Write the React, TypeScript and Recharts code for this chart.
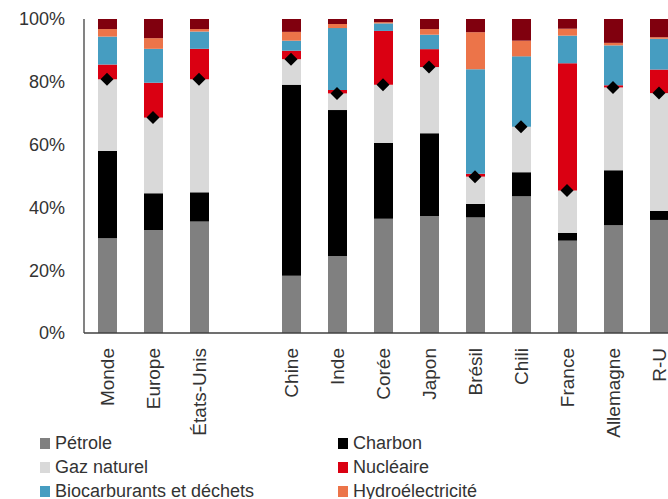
import { ComposedChart, Bar, Line, XAxis, YAxis } from 'recharts';

const categories = ['Monde', 'Europe', 'États-Unis', '', 'Chine', 'Inde', 'Corée', 'Japon', 'Brésil', 'Chili', 'France', 'Allemagne', 'R-U'];
const petrole = [30.2, 32.8, 35.5, null, 18.2, 24.5, 36.4, 37.3, 36.8, 43.6, 29.4, 34.3, 36.0];
const charbon = [27.8, 11.7, 9.3, null, 60.9, 46.5, 24.1, 26.3, 4.3, 7.6, 2.5, 17.5, 2.9];
const gaz = [22.8, 24.1, 36.0, null, 8.1, 5.3, 18.6, 21.1, 8.7, 14.5, 13.5, 26.4, 37.5];
const nucleaire = [4.7, 11.1, 9.7, null, 2.7, 1.1, 17.1, 5.7, 0.9, 0, 40.5, 0.7, 7.5];
const biocarburants = [8.9, 10.8, 5.5, null, 3.2, 19.7, 2.4, 4.6, 33.3, 22.4, 8.8, 12.7, 9.8];
const hydro = [2.4, 3.4, 0.8, null, 2.8, 1.3, 0.4, 1.8, 11.8, 5.0, 2.2, 0.8, 0.5];
const autres = [3.2, 6.1, 3.2, null, 4.1, 1.6, 1.0, 3.2, 4.2, 6.9, 3.1, 7.6, 5.8];
const fossiles = [80.8, 68.6, 80.8, null, 87.2, 76.3, 79.1, 84.7, 49.8, 65.7, 45.4, 78.2, 76.4];
const yTicks = [0, 20, 40, 60, 80, 100];

const SERIES = [
  { key: 'petrole', name: 'Pétrole', color: '#808080', values: petrole },
  { key: 'charbon', name: 'Charbon', color: '#000000', values: charbon },
  { key: 'gaz', name: 'Gaz naturel', color: '#d9d9d9', values: gaz },
  { key: 'nucleaire', name: 'Nucléaire', color: '#da0012', values: nucleaire },
  { key: 'bio', name: 'Biocarburants et déchets', color: '#469dc1', values: biocarburants },
  { key: 'hydro', name: 'Hydroélectricité', color: '#ec7449', values: hydro },
  { key: 'autres', name: 'Autres', color: '#80000e', values: autres },
];

const data = categories.map((name, i) => {
  const row: Record<string, any> = { name, fossiles: fossiles[i] };
  SERIES.forEach(s => { row[s.key] = s.values[i]; });
  return row;
});

const FONT = '"Liberation Sans", Arial, sans-serif';
const TEXT = '#333333';

function XTick({ x, y, payload }: any) {
  if (!payload.value) return null;
  return (
    <text
      transform={`translate(${x},${y}) rotate(-90)`}
      textAnchor="end"
      dy="0.36em"
      fill={TEXT}
      fontSize={19}
      fontFamily={FONT}
    >
      {payload.value}
    </text>
  );
}

function Diamond({ cx, cy }: any) {
  if (cx == null || cy == null || isNaN(cy)) return null;
  const r = 6.5;
  return <polygon points={`${cx},${cy - r} ${cx + r},${cy} ${cx},${cy + r} ${cx - r},${cy}`} fill="#000" />;
}

export default function App() {
  return (
    <div style={{ position: 'fixed', left: 0, top: 0, width: 668, height: 499, overflow: 'hidden', background: '#fff' }}>
      <ComposedChart
        width={700}
        height={440}
        data={data}
        margin={{ top: 19, right: 18, bottom: 0, left: 0 }}
      >
        <YAxis
          domain={[0, 100]}
          ticks={yTicks}
          width={84}
          tickFormatter={(v) => `${v}%`}
          tickLine={false}
          tickSize={0}
          tickMargin={19}
          axisLine={{ stroke: '#404040', strokeWidth: 1.3 }}
          tick={{ fill: TEXT, fontSize: 18, fontFamily: FONT }}
        />
        <XAxis
          dataKey="name"
          interval={0}
          height={107}
          tickLine={false}
          tickSize={0}
          tickMargin={15}
          axisLine={{ stroke: '#404040', strokeWidth: 1.3 }}
          tick={<XTick />}
        />
        {SERIES.map(s => (
          <Bar
            key={s.key}
            dataKey={s.key}
            name={s.name}
            stackId="a"
            fill={s.color}
            barSize={19}
            isAnimationActive={false}
          />
        ))}
        <Line
          dataKey="fossiles"
          stroke="none"
          dot={<Diamond />}
          activeDot={false}
          legendType="none"
          isAnimationActive={false}
        />
      </ComposedChart>
      <div
        style={{
          position: 'absolute',
          left: 40,
          top: 431,
          display: 'grid',
          gridTemplateColumns: '298px 298px',
          fontFamily: FONT,
          fontSize: 18,
          color: TEXT,
        }}
      >
        {SERIES.map(s => (
          <div key={s.key} style={{ display: 'flex', alignItems: 'center', height: 24 }}>
            <span style={{ width: 10, height: 11, background: s.color, marginRight: 5, display: 'inline-block' }} />
            <span>{s.name}</span>
          </div>
        ))}
      </div>
    </div>
  );
}
